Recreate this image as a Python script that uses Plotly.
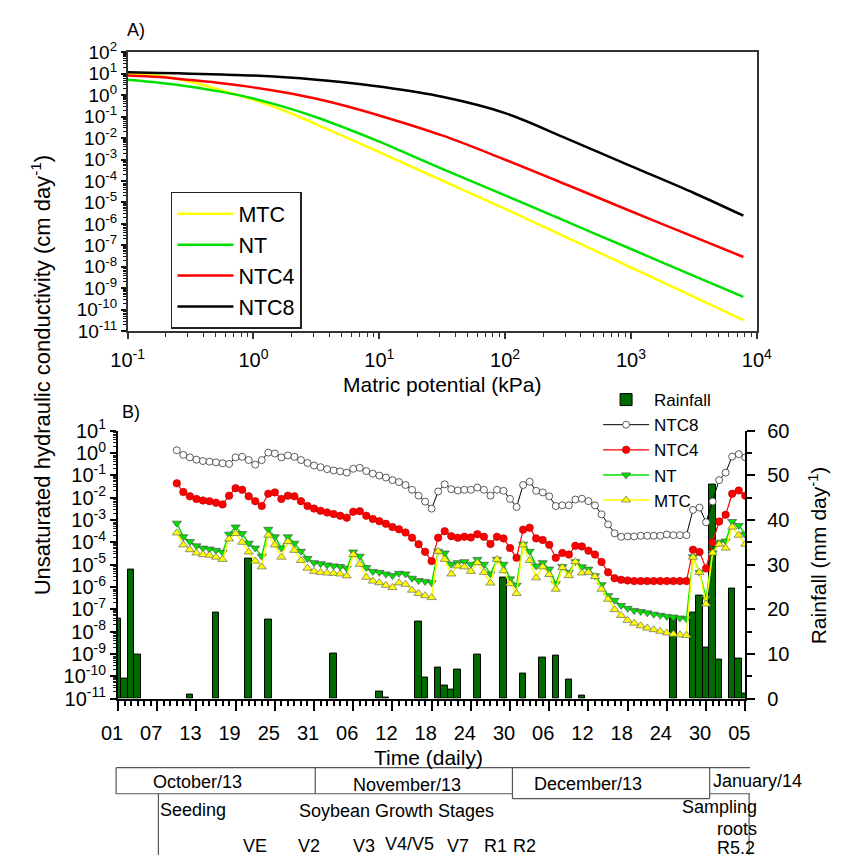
import plotly.graph_objects as go
import pandas as pd

W, H = 843, 864
FONT = "Liberation Sans, Arial, sans-serif"


def px(x):
    return x / W


def py(y):
    return 1 - y / H


# ---------------- Panel A data ----------------
matric_kpa = [0.1, 0.178, 0.316, 0.562, 1, 1.78, 3.16, 5.62, 10, 31.6, 100, 316, 1000, 3162, 7820]
ka_mtc = [9.77, 7.94, 4.17, 1.66, 0.603, 0.182, 0.0437, 0.01, 0.00219, 1.05e-4, 5.01e-6, 2.19e-7, 9.33e-9, 3.98e-10, 3.31e-11]
ka_nt = [5.22, 3.80, 2.45, 1.41, 0.692, 0.275, 0.0933, 0.0263, 0.00676, 3.63e-4, 2.14e-5, 1.20e-6, 6.76e-8, 3.80e-9, 3.98e-10]
ka_ntc4 = [8.20, 6.92, 5.01, 3.55, 2.29, 1.32, 0.676, 0.295, 0.112, 0.0132, 9.77e-4, 6.31e-5, 3.89e-6, 2.51e-7, 2.88e-8]
ka_ntc8 = [11.6, 10.7, 10.0, 9.12, 8.13, 6.76, 5.25, 3.80, 2.51, 0.832, 0.145, 0.00891, 4.9e-4, 2.75e-5, 2.4e-6]

a_x_exponents = [-1, 0, 1, 2, 3, 4]
a_y_exponents = list(range(-11, 3))

# ---------------- Panel B data ----------------
series_dates = [d.strftime("%Y-%m-%d") for d in pd.date_range("2013-10-10", "2014-01-05", freq="D")]

k_ntc8 = [
    1.31, 0.82, 0.63, 0.50, 0.434, 0.406, 0.379, 0.344, 0.321, 0.63,
    0.67, 0.48, 0.30, 0.48, 1.03, 0.94, 0.63, 0.77, 0.67, 0.48,
    0.355, 0.272, 0.230, 0.188, 0.165, 0.149, 0.131, 0.195, 0.215, 0.154,
    0.118, 0.0966, 0.079, 0.0605, 0.0495, 0.0367, 0.0223, 0.0122, 0.0066, 0.00321,
    0.0188, 0.0393, 0.0238, 0.0208, 0.0223, 0.0223, 0.0281, 0.0223, 0.0122, 0.0223,
    0.0201, 0.00875, 0.00379, 0.0367, 0.0513, 0.0201, 0.0171, 0.0114, 0.0042, 0.00449,
    0.00449, 0.00818, 0.0089, 0.00692, 0.00449, 0.00178, 0.00063, 0.00025, 0.000176, 0.000182,
    0.000182, 0.000195, 0.000195, 0.000195, 0.000195, 0.000223, 0.000208, 0.000208, 0.000208, 0.00281,
    0.00356, 0.00079, 0.0067, 0.0605, 0.131, 0.69, 0.875, 0.63,
]
k_ntc4 = [
    0.0434, 0.0176, 0.0114, 0.00875, 0.0074, 0.00692, 0.00586, 0.00495, 0.0122, 0.0263,
    0.0223, 0.0114, 0.00692, 0.0042, 0.0149, 0.0171, 0.00875, 0.0122, 0.0114, 0.00692,
    0.0042, 0.00321, 0.00255, 0.00215, 0.00182, 0.00154, 0.00126, 0.0023, 0.00246, 0.00154,
    0.0011, 0.000875, 0.00067, 0.00048, 0.000379, 0.000272, 0.00016, 0.0000818, 0.0000372, 0.0000144,
    0.00016, 0.000311, 0.000188, 0.00016, 0.000176, 0.000165, 0.00023, 0.000176, 0.0000845, 0.000176,
    0.000149, 0.0000548, 0.0000201, 0.000367, 0.000449, 0.000149, 0.000126, 0.0000766, 0.0000201, 0.0000333,
    0.0000281, 0.0000693, 0.0000649, 0.000042, 0.0000281, 0.0000131, 0.00000449, 0.00000246, 0.00000208, 0.00000195,
    0.00000182, 0.00000182, 0.00000182, 0.00000182, 0.00000182, 0.00000182, 0.00000182, 0.00000182, 0.00000182, 0.0000464,
    0.0000367, 0.0000067, 0.0001, 0.000845, 0.0017, 0.0149, 0.0208, 0.0122,
]
k_nt = [
    7.16e-4, 1.76e-4, 1.07e-4, 6.93e-5, 5.48e-5, 4.97e-5, 4.35e-5, 3.56e-5, 2.30e-4, 4.80e-4,
    2.46e-4, 9.06e-5, 5.48e-5, 2.38e-5, 3.80e-4, 1.76e-4, 5.48e-5, 1.76e-4, 9.06e-5, 3.93e-5,
    1.88e-5, 1.22e-5, 1.10e-5, 9.66e-6, 8.75e-6, 8.18e-6, 6.92e-6, 3.67e-5, 2.38e-5, 7.40e-6,
    4.97e-6, 4.49e-6, 3.80e-6, 3.21e-6, 4.06e-6, 3.80e-6, 2.46e-6, 1.95e-6, 1.76e-6, 1.54e-6,
    3.93e-5, 3.33e-5, 1.03e-5, 1.22e-5, 1.35e-5, 1.03e-5, 1.71e-5, 1.03e-5, 3.80e-6, 1.71e-5,
    1.03e-5, 2.30e-6, 1.18e-6, 8.18e-5, 3.93e-5, 8.75e-6, 1.22e-5, 6.27e-6, 1.40e-6, 8.18e-6,
    4.49e-6, 1.35e-5, 7.94e-6, 6.27e-6, 3.16e-6, 1.26e-6, 4.07e-7, 2.51e-7, 1.48e-7, 1.10e-7,
    8.71e-8, 7.94e-8, 6.92e-8, 6.03e-8, 5.37e-8, 4.79e-8, 4.47e-8, 4.07e-8, 3.72e-8, 2.24e-5,
    4.49e-6, 3.16e-7, 3.33e-5, 1.0e-4, 1.14e-4, 8.47e-4, 5.68e-4, 2.30e-4,
]
k_mtc = [
    2.63e-4, 7.66e-5, 4.65e-5, 3.33e-5, 2.81e-5, 2.63e-5, 2.15e-5, 1.71e-5, 1.40e-4, 2.46e-4,
    1.0e-4, 3.67e-5, 1.44e-5, 7.91e-6, 2.08e-4, 7.66e-5, 2.15e-5, 1.07e-4, 4.35e-5, 1.54e-5,
    6.92e-6, 4.97e-6, 4.49e-6, 4.20e-6, 4.06e-6, 3.80e-6, 3.11e-6, 2.81e-5, 1.03e-5, 2.72e-6,
    1.82e-6, 1.54e-6, 1.18e-6, 9.35e-7, 1.54e-6, 1.31e-6, 7.16e-7, 5.13e-7, 4.06e-7, 3.33e-7,
    3.93e-5, 1.71e-5, 3.80e-6, 8.75e-6, 7.93e-6, 4.97e-6, 1.22e-5, 4.49e-6, 1.49e-6, 1.71e-5,
    5.31e-6, 1.40e-6, 5.13e-7, 7.66e-5, 1.54e-5, 2.55e-6, 7.93e-6, 3.56e-6, 7.93e-7, 7.40e-6,
    3.21e-6, 1.35e-5, 4.20e-6, 4.49e-6, 2.91e-6, 7.93e-7, 2.81e-7, 9.66e-8, 5.31e-8, 3.21e-8,
    2.38e-8, 1.82e-8, 1.44e-8, 1.22e-8, 1.03e-8, 8.75e-9, 7.66e-9, 7.16e-9, 6.70e-9, 2.15e-5,
    4.49e-6, 1.71e-7, 3.33e-5, 8.18e-5, 5.48e-5, 4.80e-4, 2.08e-4, 8.18e-5,
]

rain_dates = [
    "2013-10-01", "2013-10-02", "2013-10-03", "2013-10-04", "2013-10-12", "2013-10-16", "2013-10-21", "2013-10-24",
    "2013-11-03", "2013-11-10", "2013-11-11", "2013-11-16", "2013-11-17", "2013-11-19", "2013-11-20", "2013-11-21",
    "2013-11-22", "2013-11-25", "2013-11-29",
    "2013-12-02", "2013-12-05", "2013-12-07", "2013-12-09", "2013-12-11", "2013-12-25", "2013-12-28", "2013-12-29",
    "2013-12-30", "2013-12-31",
    "2014-01-01", "2014-01-03", "2014-01-04", "2014-01-05",
]
rain_mm = [
    18.0, 4.5, 28.8, 9.9, 1.0, 19.3, 31.3, 17.8,
    10.1, 1.6, 0.3, 17.2, 4.7, 6.9, 3.0, 2.1, 6.5, 9.9, 27.0,
    5.7, 9.2, 9.6, 4.3, 0.6, 18.0, 19.2, 23.0, 11.5, 48.0,
    8.7, 24.6, 8.9, 1.2,
]

b_tick_dates = [d.strftime("%Y-%m-%d") for d in pd.date_range("2013-10-01", "2014-01-05", freq="6D")]
b_tick_text = ["01", "07", "13", "19", "25", "31", "06", "12", "18", "24", "30", "06", "12", "18", "24", "30", "05"]
b_y_exponents = list(range(-11, 2))
rain_ticks = [0, 10, 20, 30, 40, 50, 60]

# ---------------- colours ----------------
C_YEL = "#FFFF00"
C_GRN = "#00E000"
C_RED = "#FF0000"
C_BLK = "#000000"
C_BAR = "#006A00"


def log_ticks(exps):
    vals = [10.0 ** e for e in exps]
    text = ["10<sup>%d</sup>" % e for e in exps]
    minor = [m * 10.0 ** e for e in exps[:-1] for m in range(2, 10)]
    return vals, text, minor


fig = go.Figure()

# ---- Panel A curves ----
for name, vals, col in [("MTC", ka_mtc, C_YEL), ("NT", ka_nt, C_GRN),
                        ("NTC4", ka_ntc4, C_RED), ("NTC8", ka_ntc8, C_BLK)]:
    fig.add_trace(go.Scatter(
        x=matric_kpa, y=vals, name=name, mode="lines",
        line=dict(color=col, width=2.5, shape="spline", smoothing=1.0),
        xaxis="x", yaxis="y", legend="legend",
    ))

# ---- Panel B ----
fig.add_trace(go.Bar(
    x=rain_dates, y=rain_mm, name="Rainfall", width=86400000,
    marker=dict(color=C_BAR, line=dict(color="#000000", width=1)),
    xaxis="x2", yaxis="y2", legend="legend2",
))
fig.add_trace(go.Scatter(
    x=series_dates, y=k_ntc8, name="NTC8", mode="lines+markers",
    line=dict(color=C_BLK, width=1),
    marker=dict(symbol="circle", size=7, color="white", line=dict(color="#333333", width=0.8)),
    xaxis="x2", yaxis="y3", legend="legend2",
))
fig.add_trace(go.Scatter(
    x=series_dates, y=k_ntc4, name="NTC4", mode="lines+markers",
    line=dict(color=C_RED, width=1.2),
    marker=dict(symbol="circle", size=7.5, color=C_RED, line=dict(color="#B00000", width=0.6)),
    xaxis="x2", yaxis="y3", legend="legend2",
))
fig.add_trace(go.Scatter(
    x=series_dates, y=k_nt, name="NT", mode="lines+markers",
    line=dict(color=C_GRN, width=1.5),
    marker=dict(symbol="triangle-down", size=8, color=C_GRN, line=dict(color="#555555", width=0.7)),
    xaxis="x2", yaxis="y3", legend="legend2",
))
fig.add_trace(go.Scatter(
    x=series_dates, y=k_mtc, name="MTC", mode="lines+markers",
    line=dict(color=C_YEL, width=1.5),
    marker=dict(symbol="triangle-up", size=8, color=C_YEL, line=dict(color="#666666", width=0.7)),
    xaxis="x2", yaxis="y3", legend="legend2",
))

ax_vals, ax_text, ax_minor = log_ticks(a_x_exponents)
ay_vals, ay_text, ay_minor = log_ticks(a_y_exponents)
by_vals, by_text, by_minor = log_ticks(b_y_exponents)

tickfont = dict(family=FONT, size=20, color="black")

layout = dict(
    width=W, height=H, autosize=False,
    margin=dict(l=0, r=0, t=0, b=0),
    paper_bgcolor="white", plot_bgcolor="white",
    font=dict(family=FONT, color="black"),
    bargap=0,
    xaxis=dict(
        type="log", range=[-1, 4], domain=[px(115), px(769)], anchor="y",
        tickmode="array", tickvals=ax_vals, ticktext=ax_text,
        ticks="outside", ticklen=6, tickwidth=1.5, tickcolor="#333333",
        showline=True, linecolor="#333333", linewidth=1.5, mirror=True,
        showgrid=False, zeroline=False, tickfont=tickfont, ticklabelstandoff=4,
        minor=dict(tickmode="array", tickvals=ax_minor, ticks="outside", ticklen=4,
                   tickwidth=1, tickcolor="#333333", showgrid=False),
    ),
    yaxis=dict(
        type="log", range=[-11, 2], domain=[py(326.7), py(39.3)], anchor="x",
        tickmode="array", tickvals=ay_vals, ticktext=ay_text,
        ticks="outside", ticklen=5, tickwidth=1.5, tickcolor="#111111",
        showline=True, linecolor="#333333", linewidth=1.5, mirror=True,
        showgrid=False, zeroline=False, tickfont=dict(family=FONT, size=19, color="black"),
        ticklabelstandoff=0,
        minor=dict(tickmode="array", tickvals=ay_minor, ticks="outside", ticklen=3,
                   tickwidth=1, tickcolor="#111111", showgrid=False),
    ),
    xaxis2=dict(
        type="date", range=["2013-10-01", "2014-01-05"], domain=[px(105), px(757)], anchor="y2",
        tickmode="array", tickvals=b_tick_dates, ticktext=b_tick_text,
        ticks="outside", ticklen=10, tickwidth=2, tickcolor="black",
        showline=True, linecolor="black", linewidth=2,
        showgrid=False, zeroline=False, tickfont=tickfont,
        ticklabelshift=-6, ticklabelstandoff=5,
        minor=dict(tickmode="linear", tick0="2013-10-01", dtick=86400000, ticks="outside",
                   ticklen=5, tickwidth=1.5, tickcolor="black", showgrid=False),
    ),
    yaxis2=dict(
        range=[0, 60], domain=[py(705), py(429)], anchor="x2", side="right",
        tickmode="array", tickvals=rain_ticks,
        ticks="outside", ticklen=8, tickwidth=2, tickcolor="black",
        showline=True, linecolor="black", linewidth=2,
        showgrid=False, zeroline=False, tickfont=tickfont, ticklabelstandoff=8,
        minor=dict(tickmode="linear", tick0=0, dtick=5, ticks="outside", ticklen=5,
                   tickwidth=1.5, tickcolor="black", showgrid=False),
    ),
    yaxis3=dict(
        type="log", range=[-11, 1], overlaying="y2", anchor="x2", side="left",
        tickmode="array", tickvals=by_vals, ticktext=by_text,
        ticks="outside", ticklen=6, tickwidth=1.5, tickcolor="black",
        showline=True, linecolor="black", linewidth=2,
        showgrid=False, zeroline=False, tickfont=tickfont, ticklabelstandoff=0,
        minor=dict(tickmode="array", tickvals=by_minor, ticks="outside", ticklen=3,
                   tickwidth=1, tickcolor="#222222", showgrid=False),
    ),
    legend=dict(
        x=px(160), y=py(183), xanchor="left", yanchor="top",
        bgcolor="white", bordercolor="#222222", borderwidth=1.5,
        font=dict(family=FONT, size=21.5, color="black"),
        itemwidth=56, tracegroupgap=0,
    ),
    legend2=dict(
        x=px(604), y=py(379), xanchor="left", yanchor="top",
        bgcolor="rgba(0,0,0,0)", borderwidth=0,
        font=dict(family=FONT, size=17, color="black"),
        itemwidth=46, tracegroupgap=0,
    ),
)
fig.update_layout(**layout)


def ann(text, x, y, size=18, xanchor="center", yanchor="middle", angle=0):
    return dict(text=text, x=px(x), y=py(y), xref="paper", yref="paper",
                xanchor=xanchor, yanchor=yanchor, showarrow=False, textangle=angle,
                font=dict(family=FONT, size=size, color="black"))


annotations = [
    ann("A)", 124, 16, 18),
    ann("B)", 118, 410, 18),
    ann("Matric potential (kPa)", 442, 382, 21),
    ann("Time (daily)", 428, 766, 21),
    ann("Unsaturated hydraulic conductivity (cm day<sup>-1</sup>)", 25, 372, 22, angle=-90),
    ann("Rainfall (mm day<sup>-1</sup>)", 832, 557, 21, angle=-90),
    ann("October/13", 188, 791, 18),
    ann("November/13", 405, 794, 18),
    ann("December/13", 594, 793, 18),
    ann("January/14", 721, 790, 18, xanchor="left"),
    ann("Seeding", 183, 820, 18),
    ann("Soybean Growth Stages", 394, 821, 18),
    ann("Sampling", 730, 817, 18),
    ann("roots", 748, 839, 18),
    ann("R5.2", 747, 859, 18),
    ann("VE", 247, 857, 18),
    ann("V2", 304, 857, 18),
    ann("V3", 361, 857, 18),
    ann("V4/V5", 408, 855, 18),
    ann("V7", 458, 857, 18),
    ann("R1", 497, 857, 18),
    ann("R2", 528, 857, 18),
]

LC = "#555555"


def hline(x0, x1, y):
    return dict(type="line", xref="paper", yref="paper", x0=px(x0), x1=px(x1), y0=py(y), y1=py(y),
                line=dict(color=LC, width=1.2))


def vline(x, y0, y1):
    return dict(type="line", xref="paper", yref="paper", x0=px(x), x1=px(x), y0=py(y0), y1=py(y1),
                line=dict(color=LC, width=1.2))


shapes = [
    hline(103, 762, 776),
    hline(103, 515, 803),
    hline(515, 720, 808),
    hline(720, 762, 803),
    vline(103, 776, 803),
    vline(310, 776, 803),
    vline(515, 776, 808),
    vline(720, 776, 808),
    vline(147, 803, 866),
    vline(761, 803, 866),
]

fig.update_layout(annotations=annotations, shapes=shapes)

fig.write_html("out.html")
